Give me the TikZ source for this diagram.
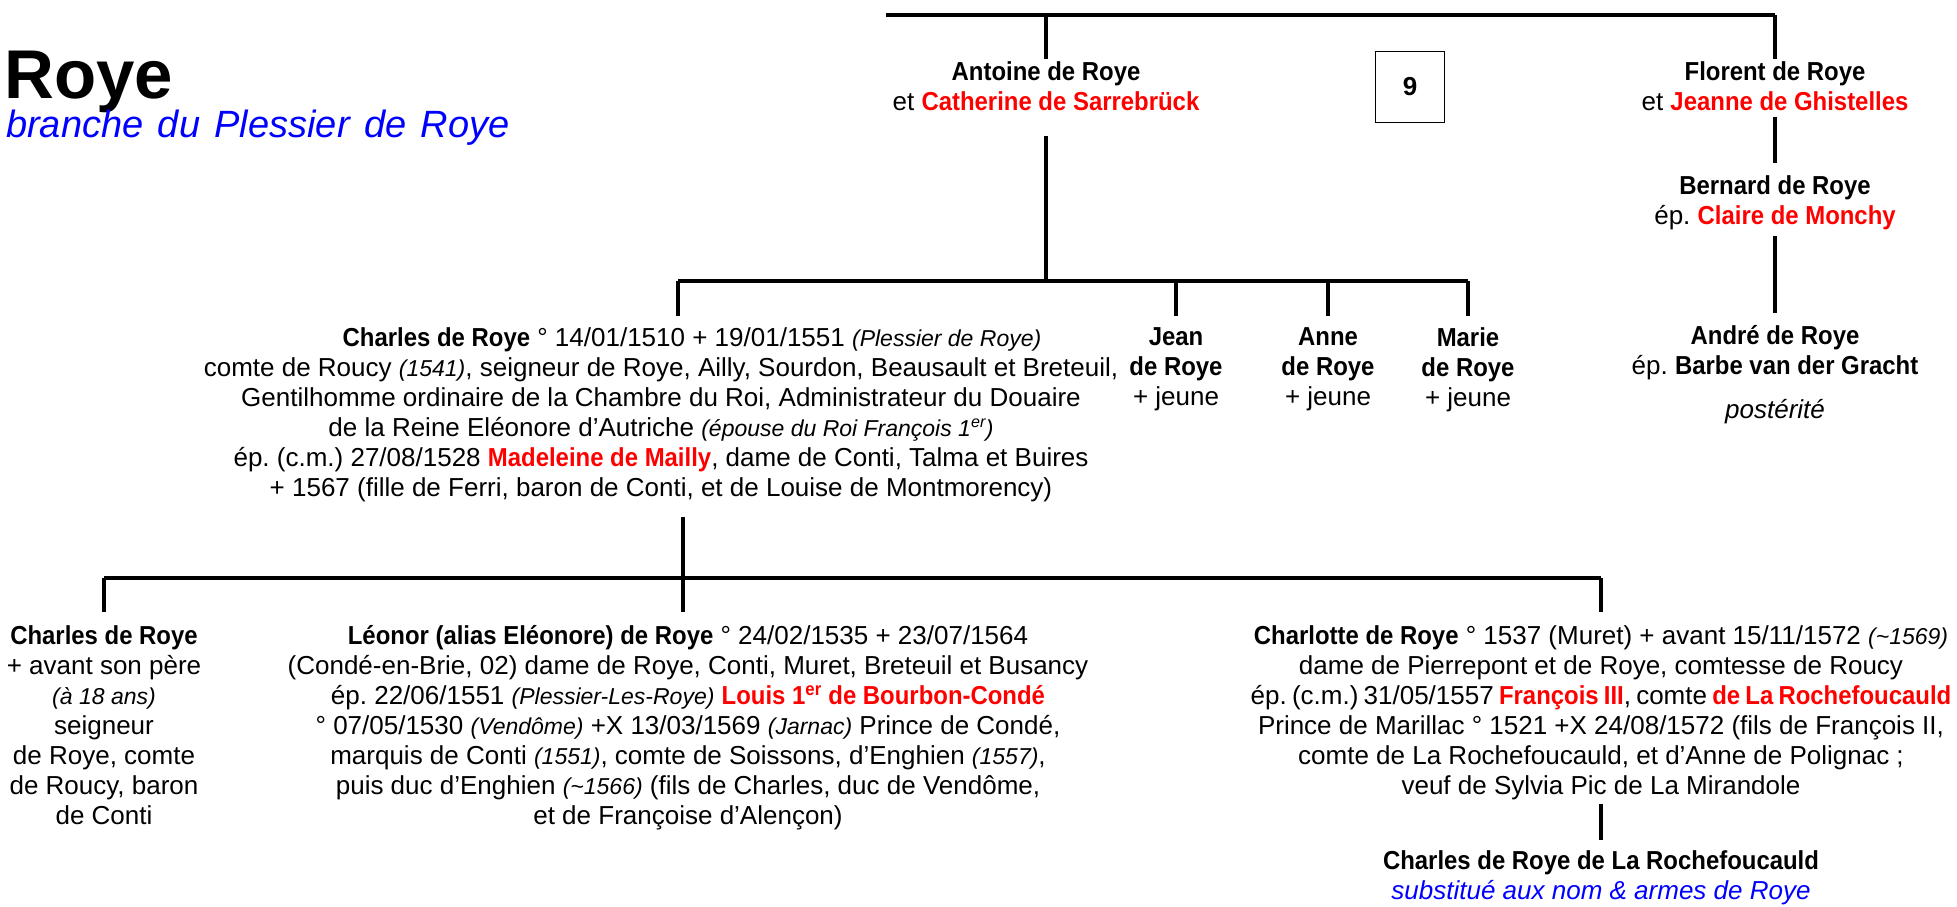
\documentclass[tikz,border=0pt]{standalone}
\usepackage{fontspec}
\setmainfont{Liberation Sans}[BoldFeatures={FakeStretch=0.92},BoldItalicFeatures={FakeStretch=0.92}]
\newfontfamily\titlefont{Liberation Sans}
\definecolor{rred}{RGB}{255,0,0}
\definecolor{bblue}{RGB}{0,0,255}
\newcommand{\rb}[1]{\textbf{\textcolor{rred}{#1}}}
\newcommand{\ita}[1]{{\fontsize{23}{30}\selectfont\itshape #1}}
\frenchspacing
\begin{document}
\begin{tikzpicture}[x=1pt,y=-1pt,
  ln/.style={line width=3.2pt},
  txt/.style={align=center, inner sep=0pt, font=\fontsize{26}{30}\selectfont},
  drop/.style={ln, shorten >=11pt}]
\fill[white] (0,0) rectangle (1957,906);
\useasboundingbox (0,0) rectangle (1957,906);

% title
\node[anchor=base west, inner sep=0pt, font=\titlefont\fontsize{69}{69}\selectfont\bfseries] (title) at (4,98) {Roye};
\node[anchor=base west, inner sep=0pt, font=\fontsize{38}{38}\selectfont\itshape, text=bblue] (sub) at (6,137) {\spaceskip=0.38em branche du Plessier de Roye};

% top generation
\coordinate (tL) at (886,15);
\coordinate (tR) at (1775,15);
\node[txt, anchor=north] (antoine) at (1046,61) {\textbf{Antoine de Roye}\\et \rb{Catherine de Sarrebrück}};
\node[txt, anchor=north] (florent) at (1775,61) {\textbf{Florent de Roye}\\et \rb{Jeanne de Ghistelles}};
\node[draw, line width=1.2pt, minimum width=69pt, minimum height=71pt, inner sep=0pt, font=\titlefont\fontsize{26}{30}\selectfont\bfseries] (nine) at (1410,87) {9};
\draw[ln] (tL) -- (tR);
\draw[ln] (tL -| antoine.north) -- ([yshift=2pt]antoine.north);
\draw[ln] (tR) -- ([yshift=2pt]florent.north);

% right branch
\node[txt, anchor=north] (bernard) at (1775,175) {\textbf{Bernard de Roye}\\ép. \rb{Claire de Monchy}};
\node[txt, anchor=north] (andre) at (1775,325) {\textbf{André de Roye}\\ép. \textbf{Barbe van der Gracht}};
\node[txt, font=\fontsize{26}{30}\selectfont\itshape] (post) at (1775,412) {postérité};
\draw[ln, shorten <=6pt, shorten >=12pt] (florent) -- (bernard);
\draw[ln, shorten <=6pt, shorten >=12pt] (bernard) -- (andre);

% children of Antoine
\coordinate (h1L) at (678,281);
\coordinate (h1R) at (1468,281);
\node[txt, anchor=north] (charles) at (661,327) {%
\hspace*{62pt}\textbf{Charles de Roye} ° 14/01/1510 + 19/01/1551 \ita{(Plessier de Roye)}\\
comte de Roucy \ita{(1541)}, seigneur de Roye, Ailly, Sourdon, Beausault et Breteuil,\\
Gentilhomme ordinaire de la Chambre du Roi, Administrateur du Douaire\\
de la Reine Eléonore d’Autriche \ita{(épouse du Roi François 1\textsuperscript{er})}\\
ép. (c.m.) 27/08/1528 \rb{Madeleine de Mailly}, dame de Conti, Talma et Buires\\
+ 1567 (fille de Ferri, baron de Conti, et de Louise de Montmorency)};
\node[txt, anchor=north] (jean) at (1176,327) {\textbf{Jean}\\\textbf{de Roye}\\+ jeune};
\node[txt, anchor=north] (anne) at (1328,327) {\textbf{Anne}\\\textbf{de Roye}\\+ jeune};
\node[txt, anchor=north] (marie) at (1468,327) {\textbf{Marie}\\\textbf{de Roye}\\+ jeune};
\draw[ln, shorten <=25pt] (antoine) -- (antoine |- h1L);
\draw[ln] (h1L) -- (h1R);
\draw[drop] (h1L) -- (h1L |- charles.north);
\draw[drop] (h1L -| jean) -- (jean.north);
\draw[drop] (h1L -| anne) -- (anne.north);
\draw[drop] (h1R) -- (marie.north);

% children of Charles
\coordinate (h2L) at (104,578);
\coordinate (h2M) at (683,578);
\coordinate (h2R) at (1601,578);
\node[txt, anchor=north] (cleft) at (104,625) {\textbf{Charles de Roye}\\+ avant son père\\\ita{(à 18 ans)}\\seigneur\\de Roye, comte\\de Roucy, baron\\de Conti};
\node[txt, anchor=north] (leonor) at (688,625) {%
\textbf{Léonor (alias Eléonore) de Roye} ° 24/02/1535 + 23/07/1564\\
(Condé-en-Brie, 02) dame de Roye, Conti, Muret, Breteuil et Busancy\\
ép. 22/06/1551 \ita{(Plessier-Les-Roye)} \rb{Louis 1\textsuperscript{er} de Bourbon-Condé}\\
° 07/05/1530 \ita{(Vendôme)} +X 13/03/1569 \ita{(Jarnac)} Prince de Condé,\\
marquis de Conti \ita{(1551)}, comte de Soissons, d’Enghien \ita{(1557)},\\
puis duc d’Enghien \ita{(\textasciitilde1566)} (fils de Charles, duc de Vendôme,\\
et de Françoise d’Alençon)};
\node[txt, anchor=north] (charlotte) at (1601,625) {%
\textbf{Charlotte de Roye} ° 1537 (Muret) + avant 15/11/1572 \ita{(\textasciitilde1569)}\\
dame de Pierrepont et de Roye, comtesse de Roucy\\
{\spaceskip=0.2em ép. (c.m.) 31/05/1557 \rb{François III}, comte \rb{de La Rochefoucauld}}\\
Prince de Marillac ° 1521 +X 24/08/1572 (fils de François II,\\
comte de La Rochefoucauld, et d’Anne de Polignac ;\\
veuf de Sylvia Pic de La Mirandole};
\node[txt, anchor=north] (laroch) at (1601,850) {\textbf{Charles de Roye de La Rochefoucauld}\\\textcolor{bblue}{\itshape substitué aux nom \& armes de Roye}};
\draw[ln, shorten <=15pt] (h2M |- charles.south) -- (h2M);
\draw[ln] (h2L) -- (h2R);
\draw[ln, shorten >=13pt] (h2L) -- (cleft.north);
\draw[ln, shorten >=13pt] (h2M) -- (h2M |- leonor.north);
\draw[ln, shorten >=13pt] (h2R) -- (h2R |- charlotte.north);
\draw[ln, shorten <=4pt, shorten >=10pt] (h2R |- charlotte.south) -- (h2R |- laroch.north);
\end{tikzpicture}
\end{document}
